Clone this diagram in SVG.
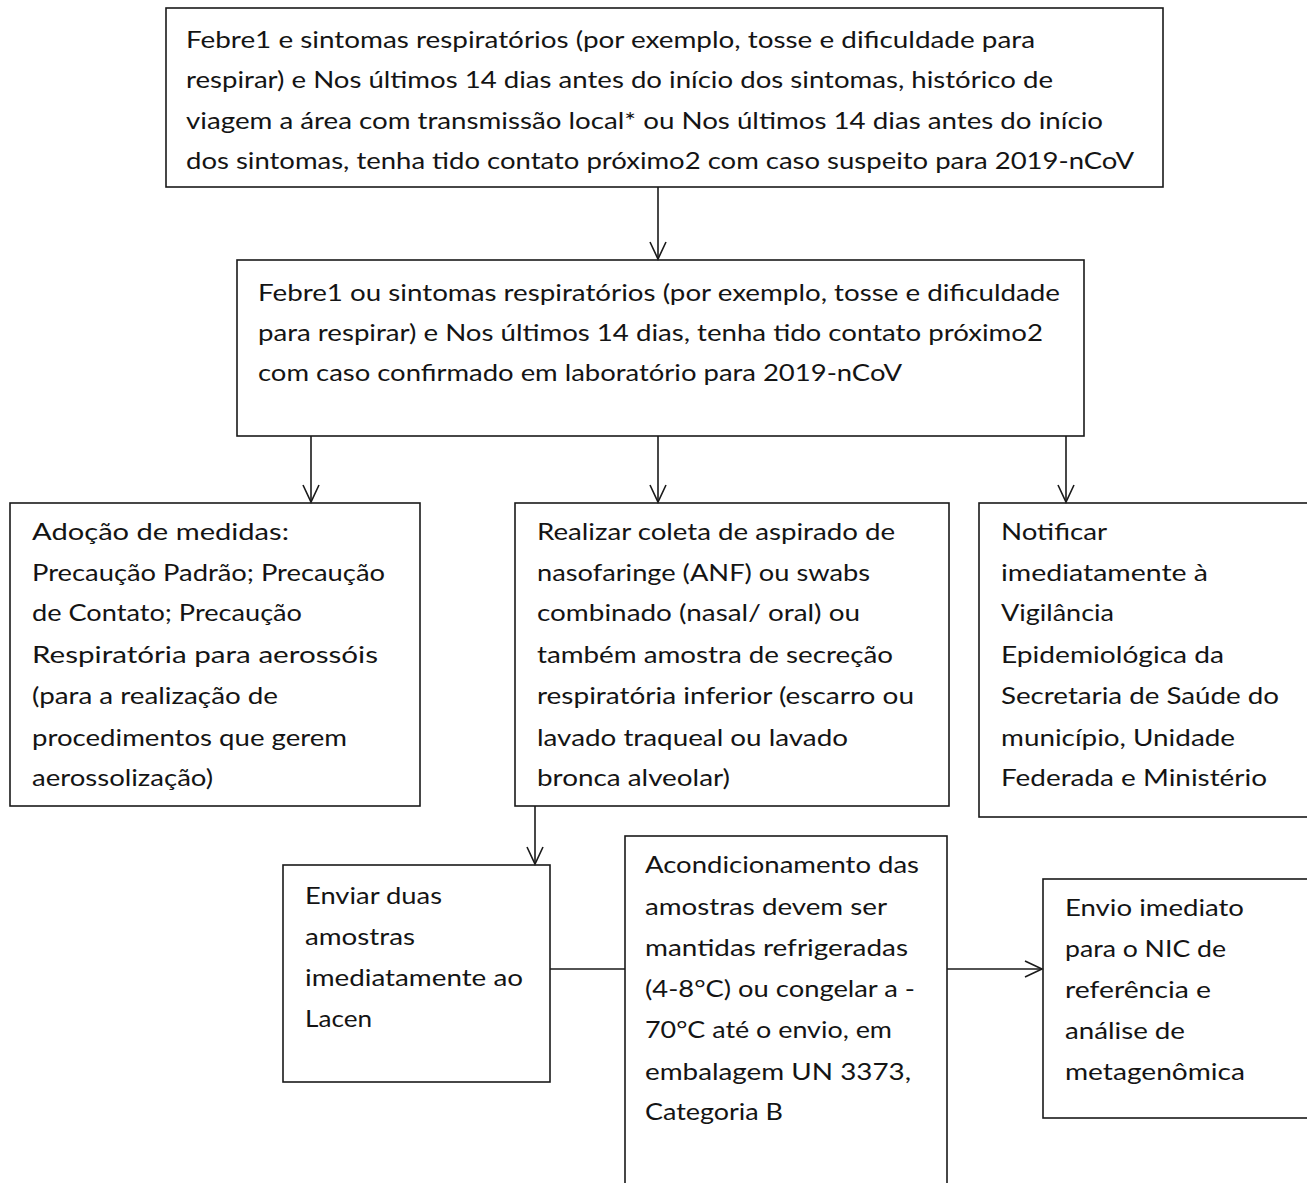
<svg xmlns="http://www.w3.org/2000/svg" width="1307" height="1183" viewBox="0 0 1307 1183">
<style>
.box{fill:#fff;stroke:#1a1a1a;stroke-width:1.6}
.t{font-family:Lato,"Liberation Sans",sans-serif;font-size:24px;fill:#141414}
.c{fill:none;stroke:#1a1a1a;stroke-width:1.6}
</style>
<defs>
<marker id="ah" markerUnits="userSpaceOnUse" markerWidth="20" markerHeight="20" viewBox="0 0 20 20" refX="18" refY="10" orient="auto">
<path d="M1,2 L18,10 L1,18" fill="none" stroke="#1a1a1a" stroke-width="1.6"/>
</marker>
</defs>
<rect width="1307" height="1183" fill="#fff"/>

<g id="n1">
<rect class="box" x="166" y="8" width="997" height="179"/>
<text class="t" x="186" y="48" textLength="849" lengthAdjust="spacingAndGlyphs">Febre1 e sintomas respiratórios (por exemplo, tosse e dificuldade para</text>
<text class="t" x="186" y="88" textLength="867" lengthAdjust="spacingAndGlyphs">respirar) e Nos últimos 14 dias antes do início dos sintomas, histórico de</text>
<text class="t" x="186" y="129" textLength="917" lengthAdjust="spacingAndGlyphs">viagem a área com transmissão local* ou Nos últimos 14 dias antes do início</text>
<text class="t" x="186" y="169" textLength="948" lengthAdjust="spacingAndGlyphs">dos sintomas, tenha tido contato próximo2 com caso suspeito para 2019-nCoV</text>
</g>

<g id="n2">
<rect class="box" x="237" y="260" width="847" height="176"/>
<text class="t" x="258" y="301" textLength="802" lengthAdjust="spacingAndGlyphs">Febre1 ou sintomas respiratórios (por exemplo, tosse e dificuldade</text>
<text class="t" x="258" y="341" textLength="785" lengthAdjust="spacingAndGlyphs">para respirar) e Nos últimos 14 dias, tenha tido contato próximo2</text>
<text class="t" x="258" y="381" textLength="644" lengthAdjust="spacingAndGlyphs">com caso confirmado em laboratório para 2019-nCoV</text>
</g>

<g id="n3">
<rect class="box" x="10" y="503" width="410" height="303"/>
<text class="t" x="32" y="540" textLength="257" lengthAdjust="spacingAndGlyphs">Adoção de medidas:</text>
<text class="t" x="32" y="581" textLength="353" lengthAdjust="spacingAndGlyphs">Precaução Padrão; Precaução</text>
<text class="t" x="32" y="621" textLength="270" lengthAdjust="spacingAndGlyphs">de Contato; Precaução</text>
<text class="t" x="32" y="663" textLength="346" lengthAdjust="spacingAndGlyphs">Respiratória para aerossóis</text>
<text class="t" x="32" y="704" textLength="246" lengthAdjust="spacingAndGlyphs">(para a realização de</text>
<text class="t" x="32" y="746" textLength="315" lengthAdjust="spacingAndGlyphs">procedimentos que gerem</text>
<text class="t" x="32" y="786" textLength="181" lengthAdjust="spacingAndGlyphs">aerossolização)</text>
</g>

<g id="n4">
<rect class="box" x="515" y="503" width="434" height="303"/>
<text class="t" x="537" y="540" textLength="358" lengthAdjust="spacingAndGlyphs">Realizar coleta de aspirado de</text>
<text class="t" x="537" y="581" textLength="333" lengthAdjust="spacingAndGlyphs">nasofaringe (ANF) ou swabs</text>
<text class="t" x="537" y="621" textLength="323" lengthAdjust="spacingAndGlyphs">combinado (nasal/ oral) ou</text>
<text class="t" x="537" y="663" textLength="356" lengthAdjust="spacingAndGlyphs">também amostra de secreção</text>
<text class="t" x="537" y="704" textLength="377" lengthAdjust="spacingAndGlyphs">respiratória inferior (escarro ou</text>
<text class="t" x="537" y="746" textLength="311" lengthAdjust="spacingAndGlyphs">lavado traqueal ou lavado</text>
<text class="t" x="537" y="786" textLength="193" lengthAdjust="spacingAndGlyphs">bronca alveolar)</text>
</g>

<g id="n5">
<rect class="box" x="979" y="503" width="340" height="314"/>
<text class="t" x="1001" y="540" textLength="106" lengthAdjust="spacingAndGlyphs">Notificar</text>
<text class="t" x="1001" y="581" textLength="207" lengthAdjust="spacingAndGlyphs">imediatamente à</text>
<text class="t" x="1001" y="621" textLength="113" lengthAdjust="spacingAndGlyphs">Vigilância</text>
<text class="t" x="1001" y="663" textLength="223" lengthAdjust="spacingAndGlyphs">Epidemiológica da</text>
<text class="t" x="1001" y="704" textLength="278" lengthAdjust="spacingAndGlyphs">Secretaria de Saúde do</text>
<text class="t" x="1001" y="746" textLength="234" lengthAdjust="spacingAndGlyphs">município, Unidade</text>
<text class="t" x="1001" y="786" textLength="266" lengthAdjust="spacingAndGlyphs">Federada e Ministério</text>
</g>

<g id="n6">
<rect class="box" x="283" y="865" width="267" height="217"/>
<text class="t" x="305" y="904" textLength="137" lengthAdjust="spacingAndGlyphs">Enviar duas</text>
<text class="t" x="305" y="945" textLength="110" lengthAdjust="spacingAndGlyphs">amostras</text>
<text class="t" x="305" y="986" textLength="218" lengthAdjust="spacingAndGlyphs">imediatamente ao</text>
<text class="t" x="305" y="1027" textLength="67" lengthAdjust="spacingAndGlyphs">Lacen</text>
</g>

<g id="n7">
<rect class="box" x="625" y="836" width="322" height="360"/>
<text class="t" x="645" y="873" textLength="274" lengthAdjust="spacingAndGlyphs">Acondicionamento das</text>
<text class="t" x="645" y="915" textLength="242" lengthAdjust="spacingAndGlyphs">amostras devem ser</text>
<text class="t" x="645" y="956" textLength="263" lengthAdjust="spacingAndGlyphs">mantidas refrigeradas</text>
<text class="t" x="645" y="997" textLength="270" lengthAdjust="spacingAndGlyphs">(4-8°C) ou congelar a -</text>
<text class="t" x="645" y="1038" textLength="247" lengthAdjust="spacingAndGlyphs">70°C até o envio, em</text>
<text class="t" x="645" y="1080" textLength="266" lengthAdjust="spacingAndGlyphs">embalagem UN 3373,</text>
<text class="t" x="645" y="1120" textLength="138" lengthAdjust="spacingAndGlyphs">Categoria B</text>
</g>

<g id="n8">
<rect class="box" x="1043" y="879" width="280" height="239"/>
<text class="t" x="1065" y="916" textLength="179" lengthAdjust="spacingAndGlyphs">Envio imediato</text>
<text class="t" x="1065" y="957" textLength="161" lengthAdjust="spacingAndGlyphs">para o NIC de</text>
<text class="t" x="1065" y="998" textLength="146" lengthAdjust="spacingAndGlyphs">referência e</text>
<text class="t" x="1065" y="1039" textLength="120" lengthAdjust="spacingAndGlyphs">análise de</text>
<text class="t" x="1065" y="1080" textLength="180" lengthAdjust="spacingAndGlyphs">metagenômica</text>
</g>

<g id="connectors">
<path class="c" d="M658,187 V259" marker-end="url(#ah)"/>
<path class="c" d="M311,436 V502" marker-end="url(#ah)"/>
<path class="c" d="M658,436 V502" marker-end="url(#ah)"/>
<path class="c" d="M1066,436 V502" marker-end="url(#ah)"/>
<path class="c" d="M535,806 V864" marker-end="url(#ah)"/>
<path class="c" d="M550,969 H625"/>
<path class="c" d="M947,969 H1042" marker-end="url(#ah)"/>
</g>
</svg>
